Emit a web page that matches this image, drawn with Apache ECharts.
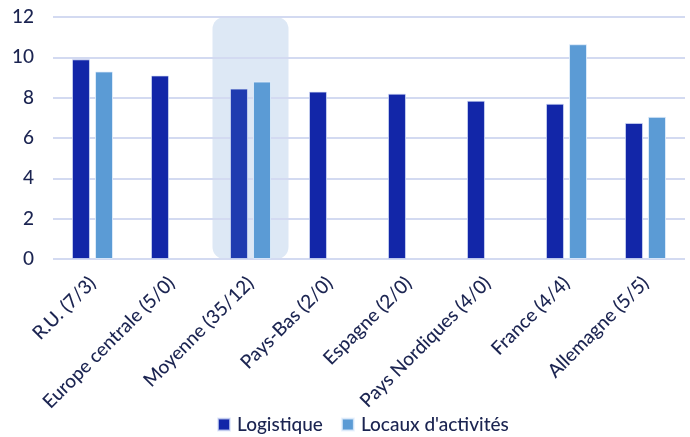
<!DOCTYPE html>
<html><head><meta charset="utf-8">
<script src="https://cdn.jsdelivr.net/npm/echarts@6/dist/echarts.min.js"></script>
<style>html,body{margin:0;padding:0;background:#fff}#c{width:690px;height:437px}</style>
</head><body><div id="c"></div>
<script>
const categories = ['R.U. (7/3)','Europe centrale (5/0)','Moyenne (35/12)','Pays-Bas (2/0)','Espagne (2/0)','Pays Nordiques (4/0)','France (4/4)','Allemagne (5/5)'];
const logistique = [9.9, 9.1, 8.45, 8.3, 8.2, 7.85, 7.7, 6.75];
const locaux = [9.3, null, 8.8, null, null, null, 10.65, 7.05];
const highlightIndex = 2;
const highlightValue = 12.1;
const yTicks = [0, 2, 4, 6, 8, 10, 12];

const txt = '#1b2451';
const font = 'Lato';
const chart = echarts.init(document.getElementById('c'));
const hlData = categories.map((c, i) => i === highlightIndex ? highlightValue : null);
chart.setOption({
  animation: false,
  grid: {left: 53, right: 5, top: 17, bottom: 178},
  legend: {
    data: ['Logistique', "Locaux d'activités"],
    bottom: -2, left: 212, itemWidth: 12, itemHeight: 12, itemGap: 18,
    icon: 'rect',
    textStyle: {color: txt, fontSize: 19, fontFamily: font, fontWeight: 500, padding: [0, 0, 0, 2]}
  },
  xAxis: [{
    type: 'category', data: categories,
    axisLine: {show: false}, axisTick: {show: false},
    axisLabel: {rotate: 45, color: txt, fontSize: 19, fontFamily: font, fontWeight: 500, margin: 21, interval: 0}
  }, {
    type: 'category', data: categories, show: false
  }],
  yAxis: {
    type: 'value', min: yTicks[0], max: yTicks[yTicks.length - 1], interval: 2,
    axisLine: {show: false}, axisTick: {show: false},
    axisLabel: {color: txt, fontSize: 19, fontFamily: font, fontWeight: 500, margin: 19},
    splitLine: {lineStyle: {color: '#d3daf1', width: 2}}
  },
  series: [{
    name: 'Highlight', type: 'bar', xAxisIndex: 1, data: hlData,
    barWidth: 76, z: -1, silent: true,
    itemStyle: {color: '#dde8f5', borderRadius: 12}
  }, {
    name: 'Logistique', type: 'bar', data: logistique.map((v, i) => i === highlightIndex ? {value: v, itemStyle: {color: '#1f3bb0'}} : v),
    barWidth: 18, barGap: '28%',
    itemStyle: {color: '#1226a8', borderColor: 'rgba(220,228,250,0.7)', borderWidth: 1}
  }, {
    name: "Locaux d'activités", type: 'bar', data: locaux,
    barWidth: 18,
    itemStyle: {color: '#5b9bd5', borderColor: 'rgba(230,240,252,0.8)', borderWidth: 1}
  }]
});
</script></body></html>
